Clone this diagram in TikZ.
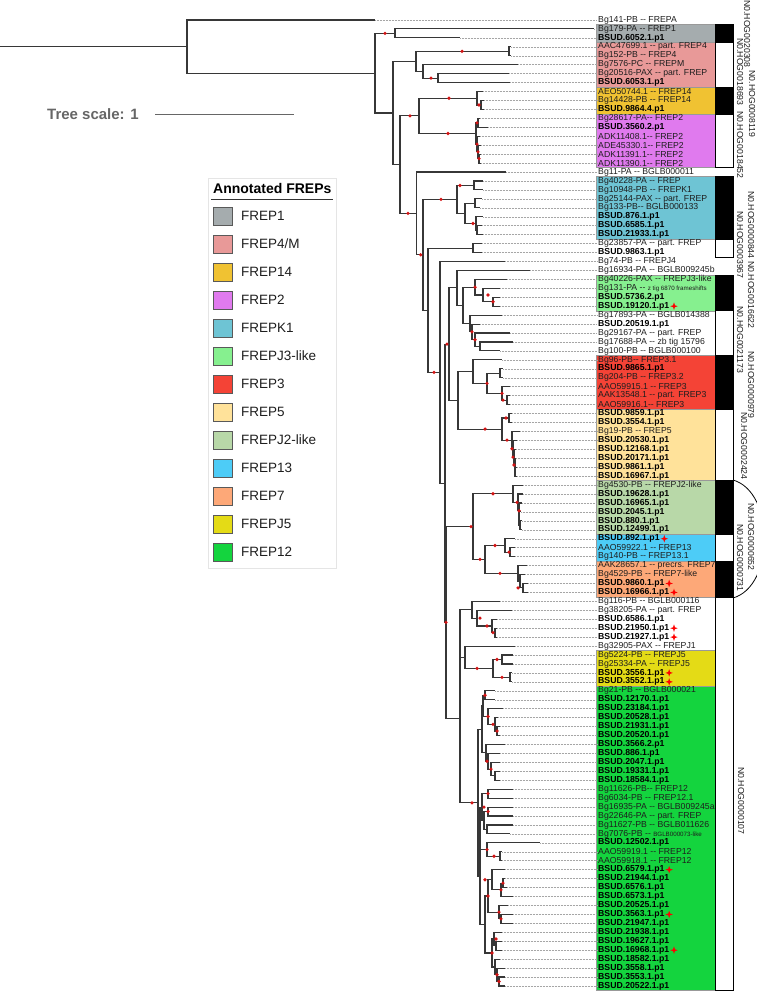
\documentclass[tikz,border=0pt]{standalone}
\usepackage{fontspec}
\setmainfont[Ligatures=TeXOff]{Liberation Sans}
\usetikzlibrary{shapes.geometric}
\definecolor{cF1}{RGB}{165,172,174}
\definecolor{cF4}{RGB}{232,153,152}
\definecolor{cF14}{RGB}{240,194,50}
\definecolor{cF2}{RGB}{224,122,238}
\definecolor{cK1}{RGB}{110,196,212}
\definecolor{cJ3}{RGB}{134,240,143}
\definecolor{cF3}{RGB}{244,67,54}
\definecolor{cF5}{RGB}{255,226,154}
\definecolor{cJ2}{RGB}{184,216,168}
\definecolor{cF13}{RGB}{77,204,247}
\definecolor{cF7}{RGB}{253,168,120}
\definecolor{cJ5}{RGB}{228,219,22}
\definecolor{cF12}{RGB}{20,212,62}
\definecolor{brc}{RGB}{55,55,55}
\definecolor{dotc}{RGB}{210,20,20}
\definecolor{txc}{RGB}{30,30,30}
\newcommand\RY[1]{\fpeval{20+8.944*(#1-1)}}
\newcommand\Lab[3][]{\edef\yv{\RY{#2}}\node[lab,#1] (t#2) at (597,\yv) {#3};}
\newcommand\Lb[2]{\Lab[font=\fontsize{8.7}{9}\selectfont\bfseries,text=black]{#1}{#2}}
\newcommand\Mk[1]{\node[mk] at ([xshift=3.5pt]t#1.east) {};}
\newcommand\Lf[2]{\edef\yv{\RY{#1}}\expandafter\xdef\csname nyl#1\endcsname{\yv}%
  \coordinate (l#1) at (#2,\yv);\draw[lead] (l#1) -- (t#1.west);}
\newcommand\Nd[3]{%
  \gdef\ymn{9999}\gdef\ymx{-9999}%
  \foreach \ch in {#3}{%
    \edef\yy{\csname ny\ch\endcsname}%
    \pgfmathsetmacro\aa{min(\ymn,\yy)}\global\let\ymn\aa
    \pgfmathsetmacro\bb{max(\ymx,\yy)}\global\let\ymx\bb}%
  \pgfmathsetmacro\yy{(\ymn+\ymx)/2}%
  \expandafter\xdef\csname ny#1\endcsname{\yy}%
  \coordinate (#1) at (#2,\yy);
  \foreach \ch in {#3}{\draw[br] (#1) |- (\ch);}}
\newcommand\RDb[2]{\edef\yv{\csname ny#1\endcsname}\fill[dotc] (#2,\yv) circle[radius=1.8pt];}
\newcommand\Grp[3]{\edef\ya{\fpeval{20+8.944*(#2-1)-4.47}}\edef\yb{\fpeval{20+8.944*(#3-1)+4.47}}%
  \filldraw[fill=#1,draw=black!40,line width=0.3pt] (596,\ya) rectangle (715,\yb);}
\newcommand\Bar[3]{\edef\ya{\fpeval{20+8.944*(#2-1)-4.47}}\edef\yb{\fpeval{20+8.944*(#3-1)+4.47}}%
  \filldraw[fill=#1,draw=black,line width=0.7pt] (715,\ya) rectangle (733,\yb);}
\begin{document}
\begin{tikzpicture}[x=1pt,y=-1pt,
  lab/.style={anchor=west,inner sep=1pt,font=\fontsize{8.7}{9}\selectfont,text=txc},
  mk/.style={star,star points=4,star point ratio=2.8,fill=red,draw=none,inner sep=0pt,minimum size=7.5pt},
  lead/.style={black!35,densely dotted,line width=0.5pt},
  br/.style={brc,line width=1.1pt},
  hog/.style={rotate=-90,font=\fontsize{8.7}{9}\selectfont,text=txc,inner sep=0pt},
  sw/.style={draw=black!65,line width=0.8pt,minimum width=19pt,minimum height=18pt,inner sep=0pt},
  legtxt/.style={anchor=west,font=\fontsize{13.5}{14}\selectfont,text=txc,inner sep=0pt}]
\useasboundingbox (0,0) rectangle (756,992);
% coloured groups
\Grp{cF1}{2}{3}\Grp{cF4}{4}{8}\Grp{cF14}{9}{11}\Grp{cF2}{12}{17}
\Grp{cK1}{19}{25}\Grp{cJ3}{30}{33}\Grp{cF3}{39}{44}\Grp{cF5}{45}{52}
\Grp{cJ2}{53}{58}\Grp{cF13}{59}{61}\Grp{cF7}{62}{65}\Grp{cJ5}{72}{75}\Grp{cF12}{76}{109}
% bars
\Bar{black}{2}{3}\Bar{white}{4}{8}\Bar{black}{9}{11}\Bar{white}{12}{17}
\Bar{black}{19}{25}\Bar{white}{26}{27}\Bar{black}{30}{33}\Bar{white}{34}{38}
\Bar{black}{39}{44}\Bar{white}{45}{52}\Bar{black}{53}{58}\Bar{white}{59}{61}
\Bar{black}{62}{65}\Bar{white}{66}{109}
% labels
\Lab{1}{Bg141-PB -- FREPA}\Lab{2}{Bg179-PA -- FREP1}\Lb{3}{BSUD.6052.1.p1}
\Lab{4}{AAC47699.1 -- part. FREP4}\Lab{5}{Bg152-PB -- FREP4}\Lab{6}{Bg7576-PC -- FREPM}
\Lab{7}{Bg20516-PAX -- part. FREP}\Lb{8}{BSUD.6053.1.p1}
\Lab{9}{AEO50744.1 -- FREP14}\Lab{10}{Bg14428-PB -- FREP14}\Lb{11}{BSUD.9864.4.p1}
\Lab{12}{Bg28617-PA-- FREP2}\Lb{13}{BSUD.3560.2.p1}\Lab{14}{ADK11408.1-- FREP2}
\Lab{15}{ADE45330.1-- FREP2}\Lab{16}{ADK11391.1-- FREP2}\Lab{17}{ADK11390.1-- FREP2}
\Lab{18}{Bg11-PA -- BGLB000011}\Lab{19}{Bg40228-PA -- FREP}\Lab{20}{Bg10948-PB -- FREPK1}
\Lab{21}{Bg25144-PAX -- part. FREP}\Lab{22}{Bg133-PB-- BGLB000133}
\Lb{23}{BSUD.876.1.p1}\Lb{24}{BSUD.6585.1.p1}\Lb{25}{BSUD.21933.1.p1}
\Lab{26}{Bg23857-PA -- part. FREP}\Lb{27}{BSUD.9863.1.p1}\Lab{28}{Bg74-PB -- FREPJ4}
\Lab{29}{Bg16934-PA -- BGLB009245b}\Lab{30}{Bg40226-PAX -- FREPJ3-like}
\Lab{31}{Bg131-PA -- {\fontsize{6.2}{7}\selectfont z tig 6870 frameshifts}}
\Lb{32}{BSUD.5736.2.p1}\Lb{33}{BSUD.19120.1.p1}
\Lab{34}{Bg17893-PA -- BGLB014388}\Lb{35}{BSUD.20519.1.p1}\Lab{36}{Bg29167-PA -- part. FREP}
\Lab{37}{Bg17688-PA -- zb tig 15796}\Lab{38}{Bg100-PB -- BGLB000100}
\Lab{39}{Bg96-PB-- FREP3.1}\Lb{40}{BSUD.9865.1.p1}\Lab{41}{Bg204-PB -- FREP3.2}
\Lab{42}{AAO59915.1 -- FREP3}\Lab{43}{AAK13548.1 -- part. FREP3}\Lab{44}{AAO59916.1-- FREP3}
\Lb{45}{BSUD.9859.1.p1}\Lb{46}{BSUD.3554.1.p1}\Lab{47}{Bg19-PB -- FREP5}
\Lb{48}{BSUD.20530.1.p1}\Lb{49}{BSUD.12168.1.p1}\Lb{50}{BSUD.20171.1.p1}
\Lb{51}{BSUD.9861.1.p1}\Lb{52}{BSUD.16967.1.p1}
\Lab{53}{Bg4530-PB -- FREPJ2-like}\Lb{54}{BSUD.19628.1.p1}\Lb{55}{BSUD.16965.1.p1}
\Lb{56}{BSUD.2045.1.p1}\Lb{57}{BSUD.880.1.p1}\Lb{58}{BSUD.12499.1.p1}
\Lb{59}{BSUD.892.1.p1}\Lab{60}{AAO59922.1 -- FREP13}\Lab{61}{Bg140-PB -- FREP13.1}
\Lab{62}{AAK28657.1 -- precrs. FREP7}\Lab{63}{Bg4529-PB -- FREP7-like}
\Lb{64}{BSUD.9860.1.p1}\Lb{65}{BSUD.16966.1.p1}
\Lab{66}{Bg116-PB -- BGLB000116}\Lab{67}{Bg38205-PA -- part. FREP}\Lb{68}{BSUD.6586.1.p1}
\Lb{69}{BSUD.21950.1.p1}\Lb{70}{BSUD.21927.1.p1}\Lab{71}{Bg32905-PAX -- FREPJ1}
\Lab{72}{Bg5224-PB -- FREPJ5}\Lab{73}{Bg25334-PA -- FREPJ5}
\Lb{74}{BSUD.3556.1.p1}\Lb{75}{BSUD.3552.1.p1}
\Lab{76}{Bg21-PB -- BGLB000021}\Lb{77}{BSUD.12170.1.p1}\Lb{78}{BSUD.23184.1.p1}
\Lb{79}{BSUD.20528.1.p1}\Lb{80}{BSUD.21931.1.p1}\Lb{81}{BSUD.20520.1.p1}
\Lb{82}{BSUD.3566.2.p1}\Lb{83}{BSUD.886.1.p1}\Lb{84}{BSUD.2047.1.p1}
\Lb{85}{BSUD.19331.1.p1}\Lb{86}{BSUD.18584.1.p1}
\Lab{87}{Bg11626-PB-- FREP12}\Lab{88}{Bg6034-PB -- FREP12.1}\Lab{89}{Bg16935-PA -- BGLB009245a}
\Lab{90}{Bg22646-PA -- part. FREP}\Lab{91}{Bg11627-PB -- BGLB011626}
\Lab{92}{Bg7076-PB -- {\fontsize{6.2}{7}\selectfont BGLB000073-like}}
\Lb{93}{BSUD.12502.1.p1}\Lab{94}{AAO59919.1 -- FREP12}\Lab{95}{AAO59918.1 -- FREP12}
\Lb{96}{BSUD.6579.1.p1}\Lb{97}{BSUD.21944.1.p1}\Lb{98}{BSUD.6576.1.p1}
\Lb{99}{BSUD.6573.1.p1}\Lb{100}{BSUD.20525.1.p1}\Lb{101}{BSUD.3563.1.p1}
\Lb{102}{BSUD.21947.1.p1}\Lb{103}{BSUD.21938.1.p1}\Lb{104}{BSUD.19627.1.p1}
\Lb{105}{BSUD.16968.1.p1}\Lb{106}{BSUD.18582.1.p1}\Lb{107}{BSUD.3558.1.p1}
\Lb{108}{BSUD.3553.1.p1}\Lb{109}{BSUD.20522.1.p1}
\Mk{33}\Mk{59}\Mk{64}\Mk{65}\Mk{69}\Mk{70}\Mk{74}\Mk{75}\Mk{96}\Mk{101}\Mk{105}
% leaves
\Lf{1}{375}\Lf{2}{594}\Lf{3}{460}\Lf{4}{511}\Lf{5}{511}\Lf{6}{518}\Lf{7}{509}\Lf{8}{510}
\Lf{9}{483}\Lf{10}{484}\Lf{11}{484}\Lf{12}{480}\Lf{13}{488}\Lf{14}{480}\Lf{15}{481}
\Lf{16}{481}\Lf{17}{481}\Lf{18}{506}\Lf{19}{483}\Lf{20}{483}\Lf{21}{482}\Lf{22}{480}
\Lf{23}{483}\Lf{24}{482}\Lf{25}{483}\Lf{26}{482}\Lf{27}{482}\Lf{28}{505}\Lf{29}{530}
\Lf{30}{507}\Lf{31}{500}\Lf{32}{500}\Lf{33}{500}\Lf{34}{502}\Lf{35}{480}\Lf{36}{510}
\Lf{37}{513}\Lf{38}{500}\Lf{39}{502}\Lf{40}{503}\Lf{41}{503}\Lf{42}{510}\Lf{43}{510}
\Lf{44}{510}\Lf{45}{512}\Lf{46}{512}\Lf{47}{520}\Lf{48}{517}\Lf{49}{516}\Lf{50}{516}
\Lf{51}{517}\Lf{52}{517}\Lf{53}{523}\Lf{54}{523}\Lf{55}{522}\Lf{56}{521}\Lf{57}{522}
\Lf{58}{522}\Lf{59}{515}\Lf{60}{515}\Lf{61}{515}\Lf{62}{527}\Lf{63}{525}\Lf{64}{528}
\Lf{65}{528}\Lf{66}{500}\Lf{67}{512}\Lf{68}{497}\Lf{69}{497}\Lf{70}{497}\Lf{71}{515}
\Lf{72}{513}\Lf{73}{513}\Lf{74}{512}\Lf{75}{512}\Lf{76}{495}\Lf{77}{495}\Lf{78}{503}
\Lf{79}{498}\Lf{80}{500}\Lf{81}{500}\Lf{82}{505}\Lf{83}{500}\Lf{84}{500}\Lf{85}{500}
\Lf{86}{500}\Lf{87}{513}\Lf{88}{513}\Lf{89}{513}\Lf{90}{513}\Lf{91}{513}\Lf{92}{510}
\Lf{93}{540}\Lf{94}{502}\Lf{95}{502}\Lf{96}{505}\Lf{97}{505}\Lf{98}{507}\Lf{99}{513}
\Lf{100}{508}\Lf{101}{513}\Lf{102}{513}\Lf{103}{502}\Lf{104}{502}\Lf{105}{502}
\Lf{106}{500}\Lf{107}{505}\Lf{108}{505}\Lf{109}{505}
% internal nodes
\Nd{C}{395}{l2,l3}\Nd{E1}{509}{l4,l5}\Nd{E3}{438}{l7,l8}\Nd{E2}{423}{l6,E3}\Nd{E}{416}{E1,E2}
\Nd{G1b}{481}{l10,l11}\Nd{G1}{477}{l9,G1b}\Nd{G2a}{478}{l12,l13}\Nd{G2d}{479}{l16,l17}
\Nd{G2c}{478}{l15,G2d}\Nd{G2b}{477}{l14,G2c}\Nd{G2}{476}{G2a,G2b}\Nd{G}{419}{G1,G2}
\Nd{Kc1}{474}{l19,l20}\Nd{Kc3}{475}{l21,l22}\Nd{Kc5}{477}{l24,l25}\Nd{Kc4}{476}{l23,Kc5}
\Nd{Kc2}{465}{Kc3,Kc4}\Nd{Kc}{457}{Kc1,Kc2}\Nd{J1}{473}{l26,l27}
\Nd{J3c}{493}{l32,l33}\Nd{J3b}{483}{l31,J3c}\Nd{J3}{475}{l30,J3b}
\Nd{K4}{480}{l37,l38}\Nd{K3}{475}{l36,K4}\Nd{K2}{472}{l35,K3}\Nd{K}{470}{l34,K2}
\Nd{Ua1}{463}{J3,K}\Nd{Ua}{457}{l29,Ua1}
\Nd{L3}{500}{l40,l41}\Nd{L5}{507}{l43,l44}\Nd{L4}{502}{l42,L5}\Nd{L2}{487}{L3,L4}\Nd{L}{473}{l39,L2}
\Nd{M1}{509}{l45,l46}\Nd{M6}{515}{l51,l52}\Nd{M5}{515}{l50,M6}\Nd{M4}{514}{l49,M5}
\Nd{M3}{513}{l48,M4}\Nd{M2}{512}{l47,M3}\Nd{M}{502}{M1,M2}\Nd{Ub}{458}{L,M}\Nd{I3}{449}{Ua,Ub}
\Nd{N5}{520}{l57,l58}\Nd{N4}{519}{l56,N5}\Nd{N3}{519}{l55,N4}\Nd{N2}{518}{l54,N3}\Nd{N}{513}{l53,N2}
\Nd{O1b}{510}{l60,l61}\Nd{O1}{505}{l59,O1b}\Nd{O2b}{523}{l64,l65}\Nd{O2a}{520}{l63,O2b}
\Nd{O2}{518}{l62,O2a}\Nd{O}{485}{O1,O2}\Nd{V1}{473}{N,O}
\Nd{P3}{495}{l69,l70}\Nd{P2}{492}{l68,P3}\Nd{P1}{477}{l67,P2}\Nd{P}{472}{l66,P1}
\Nd{Q1}{502}{l72,l73}\Nd{Q2}{510}{l74,l75}\Nd{Q}{493}{Q1,Q2}\Nd{R1}{465}{l71,Q}\Nd{R}{460}{P,R1}
\Nd{S1a}{485}{l76,l77}\Nd{S1c}{497}{l80,l81}\Nd{S1b2}{495}{l79,S1c}\Nd{S1b}{488}{l78,S1b2}
\Nd{S1}{483}{S1a,S1b}\Nd{S2c}{495}{l85,l86}\Nd{S2b}{491}{l84,S2c}\Nd{S2a}{488}{l83,S2b}
\Nd{S2}{486}{l82,S2a}\Nd{S12}{482}{S1,S2}
\Nd{T1}{488}{l87,l88}\Nd{T2}{488}{l89,l90}\Nd{T3}{487}{l91,l92}\Nd{T23}{484}{T2,T3}\Nd{T}{482}{T1,T23}
\Nd{U1}{500}{l94,l95}\Nd{U}{487}{l93,U1}\Nd{TU}{480}{T,U}
\Nd{W1}{503}{l97,l98}\Nd{W2}{501}{W1,l99}\Nd{W3}{492}{l96,W2}\Nd{W5}{501}{l101,l102}
\Nd{W4}{499}{l100,W5}\Nd{W}{488}{W3,W4}
\Nd{X1}{496}{l104,l105}\Nd{X2}{494}{l103,X1}\Nd{X4}{499}{l108,l109}\Nd{X3}{497}{l107,X4}
\Nd{X5}{495}{l106,X3}\Nd{X}{492}{X2,X5}\Nd{WX}{485}{W,X}\Nd{TUWX}{480}{TU,WX}\Nd{S}{478}{S12,TUWX}
\Nd{V2}{460}{R,S}\Nd{I4}{446}{V1,V2}\Nd{I2}{445}{I3,I4}\Nd{I}{440}{l28,I2}\Nd{J}{428}{J1,I}
\Nd{H2}{423}{Kc,J}\Nd{H}{416.7}{l18,H2}\Nd{F}{400}{G,H}\Nd{D}{393}{E,F}\Nd{B}{375}{C,D}\Nd{A}{187}{l1,B}
\draw[br] (A) -- ++(-190,0);
% support dots
\RDb{C}{385}\RDb{E1}{462}\RDb{E3}{431}\RDb{G}{410}\RDb{G1}{449}\RDb{G2}{448}\RDb{H}{408}
\RDb{H2}{420.7}\RDb{Kc}{441}\RDb{Kc1}{460}\RDb{G2a}{477}\RDb{G2b}{477}\RDb{G2c}{478}\RDb{G2d}{479}
\RDb{G1b}{479}\RDb{I}{434}\RDb{I3}{447}\RDb{I4}{446}\RDb{Kc4}{473}\RDb{J3}{475}\RDb{J3b}{488}
\RDb{J3c}{493}\RDb{K2}{472}\RDb{K3}{475}\RDb{L2}{487}\RDb{L4}{502}\RDb{L5}{503}\RDb{M}{485}
\RDb{M1}{506}\RDb{M2}{507}\RDb{M3}{512}\RDb{M4}{513}\RDb{M5}{514}\RDb{N}{493}\RDb{N2}{517}
\RDb{N3}{519}\RDb{V1}{471}\RDb{O}{480}\RDb{O1}{495}\RDb{O1b}{509}\RDb{O2}{500}\RDb{O2b}{518}
\RDb{P1}{480}\RDb{P2}{487}\RDb{P3}{493}\RDb{Q}{477}\RDb{Q1}{497}\RDb{Q2}{502}\RDb{S1a}{485}
\RDb{S1b}{488}\RDb{S1b2}{493}\RDb{S1c}{497}\RDb{S2a}{487}\RDb{S2b}{491}\RDb{S}{472}\RDb{T}{484}
\RDb{T1}{488}\RDb{T2}{488}\RDb{U}{487}\RDb{U1}{494}\RDb{W}{488}\RDb{W3}{485}\RDb{W1}{503}
\RDb{W2}{501}\RDb{W4}{499}\RDb{W5}{501}\RDb{X}{492}\RDb{X2}{496}\RDb{X3}{497}\RDb{X4}{499}
% HOG labels
\node[hog] (h1) at (747,34) {N0.HOG0020308};
\node[hog] (h2) at (740,72) {N0.HOG0018693};
\node[hog] (h3) at (752,104) {N0.HOG0008119};
\node[hog] (h4) at (740,145) {N0.HOG0018452};
\node[hog] (h5) at (751,225) {N0.HOG0000844};
\node[hog] (h6) at (740,245) {N0.HOG0003967};
\node[hog] (h7) at (751,295) {N0.HOG0016622};
\node[hog] (h8) at (740,340) {N0.HOG0021173};
\node[hog] (h9) at (751,385) {N0.HOG0000979};
\node[hog] (h10) at (744,446) {N0.HOG0002424};
\node[hog] (h11) at (751,537) {N0.HOG0000652};
\node[hog] (h12) at (740,558) {N0.HOG0000731};
\node[hog] (h13) at (741,801) {N0.HOG0000107};
\draw[line width=0.8pt] (733,480) .. controls (775,492) and (775,586) .. (733,598);
% scale
\node[anchor=west,font=\fontsize{15}{15}\selectfont\bfseries,text=black!60,inner sep=0pt] (sc) at (47,114) {Tree scale: 1};
\draw[black!60,line width=1pt] (155,114.5) -- (294,114.5);
% legend
\draw[black!10,fill=white] (208,178) rectangle (336,568);
\node[anchor=west,font=\fontsize{14}{14}\selectfont\bfseries,inner sep=0pt] (lt) at (213,188.5) {Annotated FREPs};
\draw[line width=1pt,black!80] (211,200) -- (333,200);
\foreach \i/\c/\t in {0/cF1/FREP1,1/cF4/FREP4\slash M,2/cF14/FREP14,3/cF2/FREP2,4/cK1/FREPK1,
  5/cJ3/FREPJ3-like,6/cF3/FREP3,7/cF5/FREP5,8/cJ2/FREPJ2-like,9/cF13/FREP13,10/cF7/FREP7,
  11/cJ5/FREPJ5,12/cF12/FREP12}{
  \node[sw,fill=\c] (s\i) at (222.5,216+28*\i) {};
  \node[legtxt] (st\i) at (241,216+28*\i) {\t};}
\end{tikzpicture}
\end{document}
